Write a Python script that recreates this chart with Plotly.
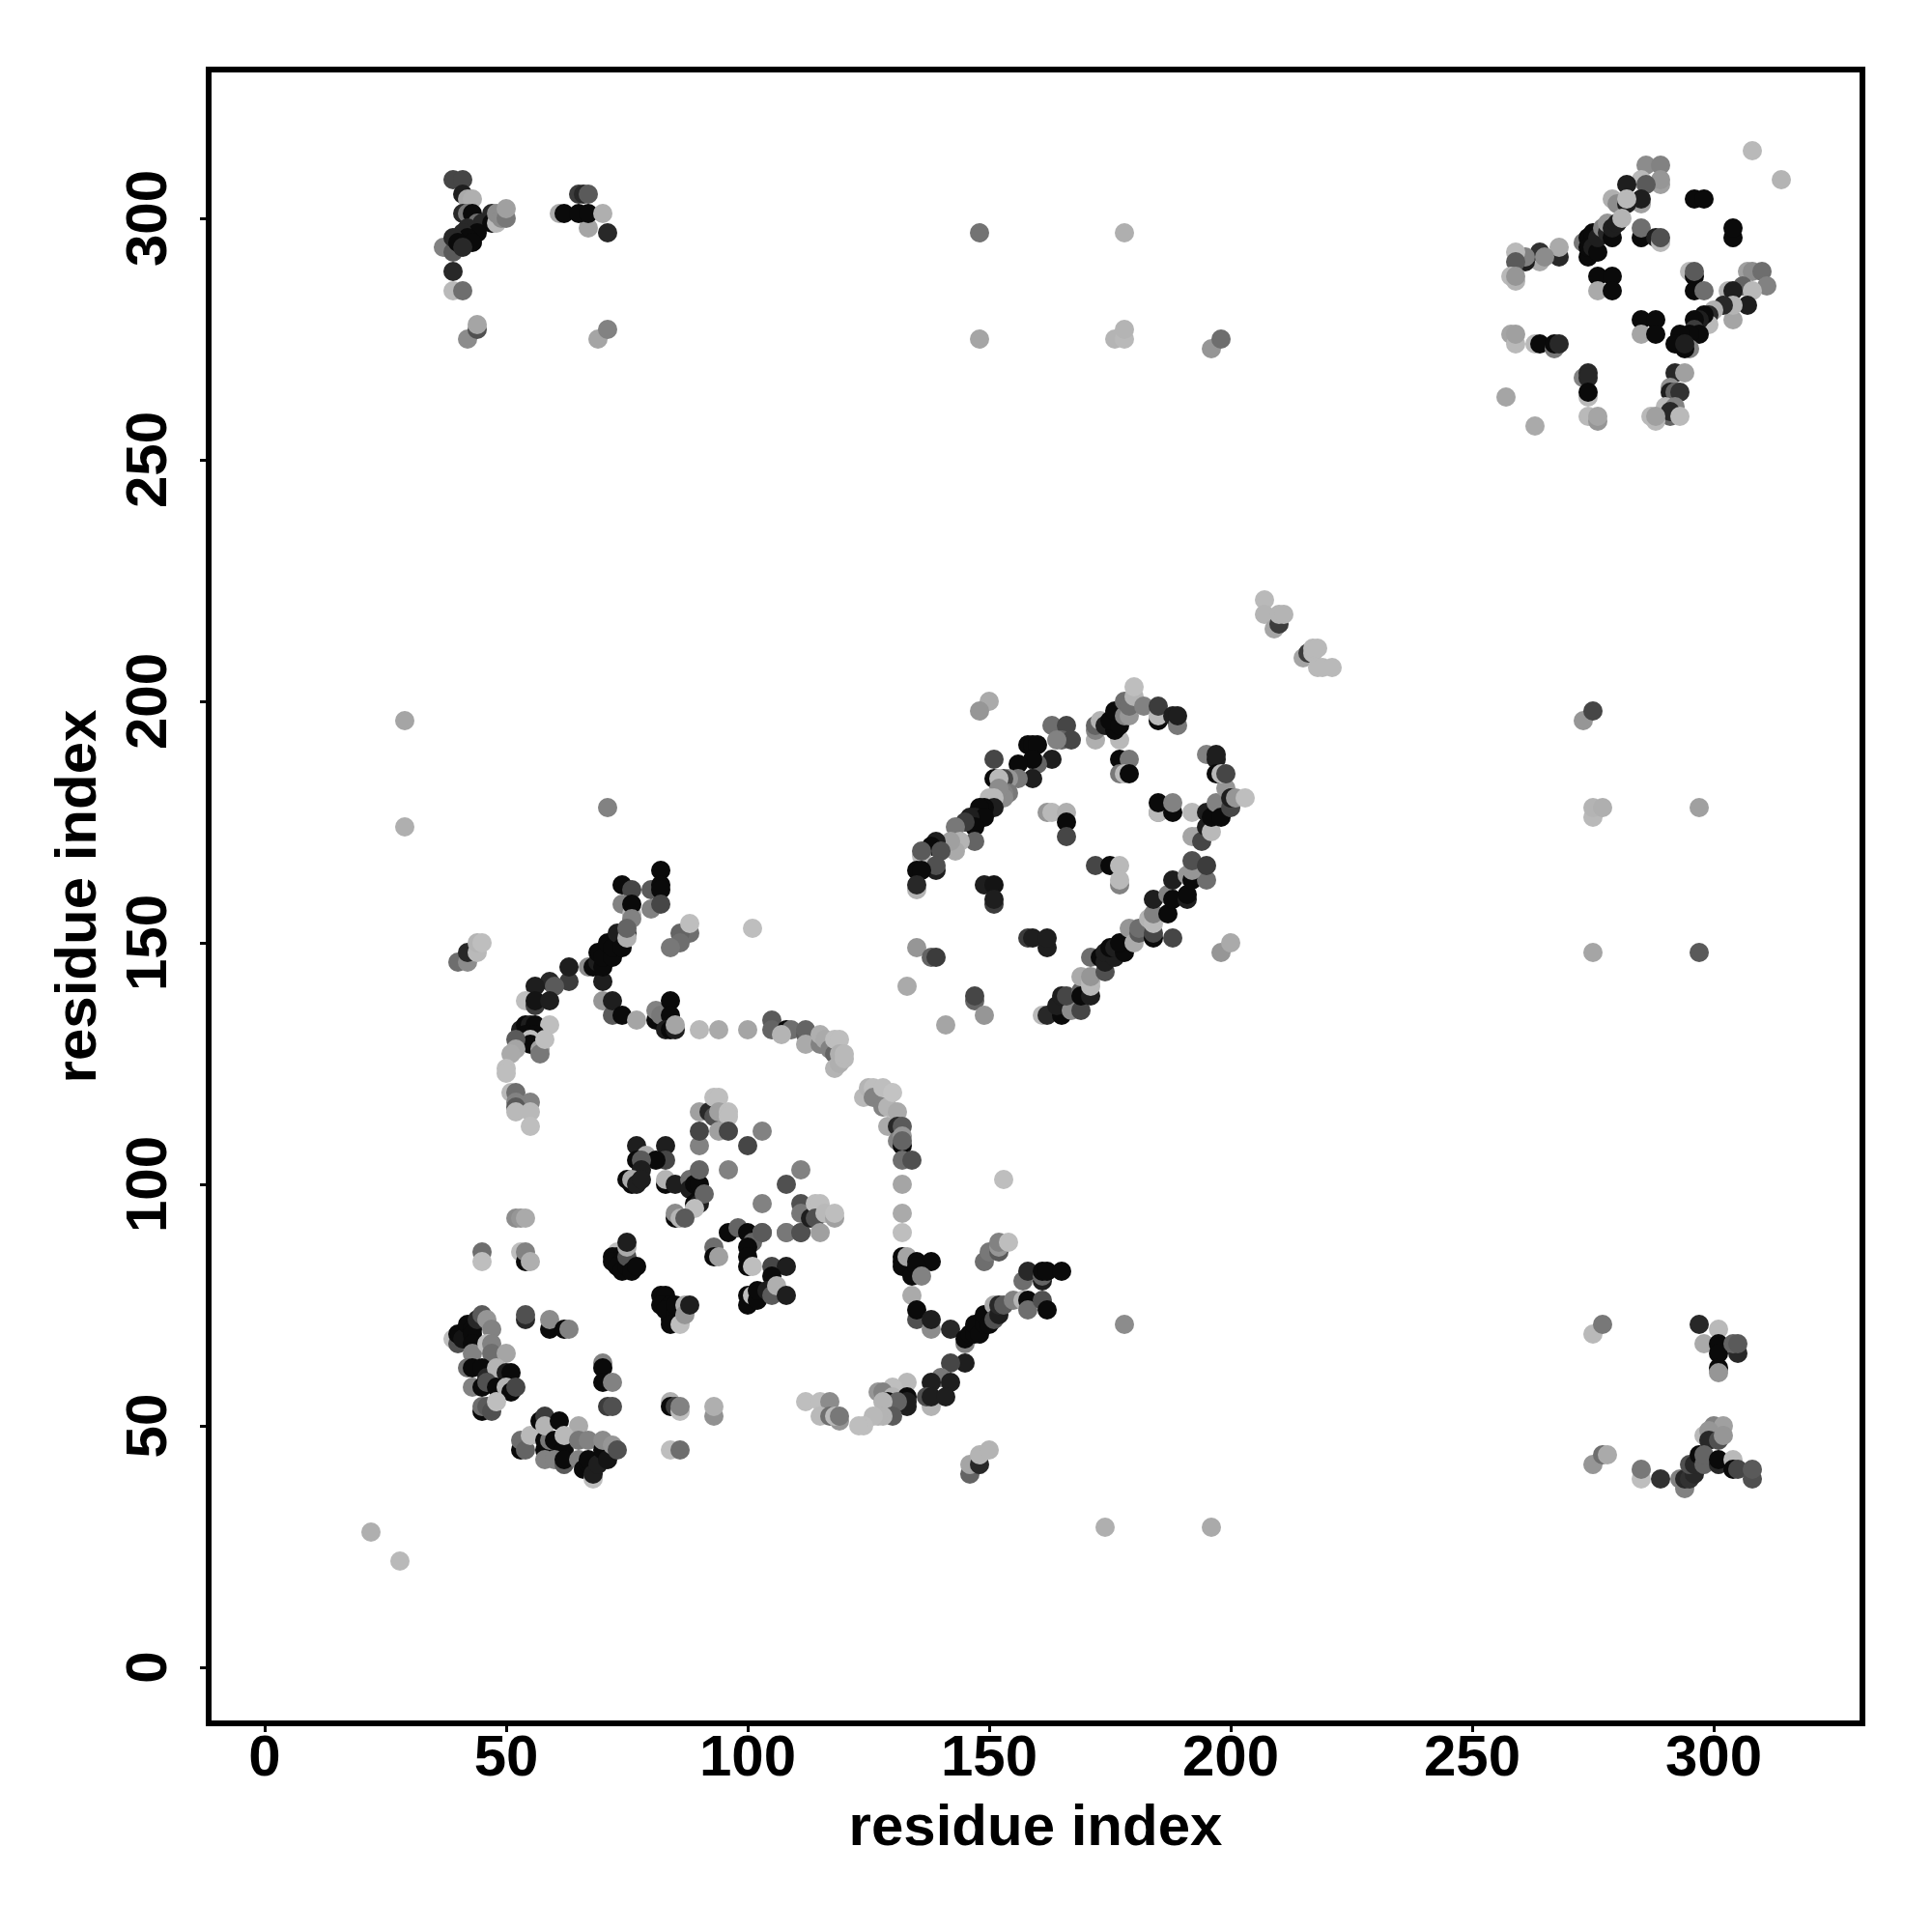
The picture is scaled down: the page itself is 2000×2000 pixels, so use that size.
import plotly.graph_objects as go

# (residue i, residue j, grey level of the dot)
lower_left = [(45,86,110),(45,84,190),(53,86,190),(54,84,10),(54,86,130),(55,84,175),(52,93,140),(53,93,150),(54,93,170),
 (54,72,40),(54,73,80),(59,70,10),(59,72,140),(62,70,10),(63,70,130),
 (39,68,190),(40,67,80),(40,69,10),(41,68,20),(42,71,10),(43,70,10),(43,69,10),(43,67,10),(44,72,40),(45,73,90),(46,72,150),(47,70,130),(43,65,130),
 (46,67,190),(47,67,130),(47,65,110),(50,65,165),(42,62,110),(43,62,10),(45,62,10),(46,60,40),(48,62,180),(50,61,30),(51,61,10),
 (43,58,130),(45,58,10),(46,59,80),(48,58,10),(50,58,180),(51,57,10),(52,58,70),(45,53,10),(45,54,110),(46,54,90),(47,53,80),(48,55,190),
 (53,45,10),(53,47,110),(54,45,100),(55,48,185),(57,51,10),(58,47,10),(58,52,60),(58,45,10),(59,47,120),(58,50,180),(61,51,10),(65,50,170),(60,47,10),(62,45,10),(62,48,185),
 (58,43,130),(60,43,130),(62,42,90),(62,43,10),(65,43,130),(65,47,120),(67,47,130),(66,41,10),(67,42,10),(67,43,10),(68,39,190),(68,40,30),(69,42,30),(70,45,10),(71,43,20),(70,47,140),(72,46,150),(73,45,80),
 (70,63,130),(70,62,10),(70,59,10),(72,59,130),(71,54,60),(72,54,80),
 (84,55,175),(84,54,10),(85,54,60),(86,53,190),(86,54,130),(93,52,145),(93,54,175),(84,45,190),(86,45,110)]

inner_sheet = [(73,86,190),(73,85,30),(72,85,10),(72,84,10),(74,84,10),(73,83,10),(74,82,10),(75,83,10),(75,85,80),(75,87,170),(75,88,30),(76,82,10),(77,83,10),
 (82,77,10),(83,77,10),(83,75,10),(82,75,10),(84,75,10),(84,72,10),(83,74,10),(85,73,10),(84,71,10),(85,75,10),(86,71,190),(87,75,170),(87,73,150),(88,75,30),
 (96,90,10),(98,91,100),(100,90,10),(103,90,110),(101,88,100),(100,87,10),(108,90,130),(111,90,90),(93,87,110),(93,85,10),(94,85,160),
 (100,85,10),(100,83,10),(101,83,190),(105,83,70),(108,83,30),(105,81,10),(100,77,10),(100,75,10),(101,77,190),(102,76,10),(102,78,10),(104,78,30),(105,77,90),(106,79,175),(108,77,30),
 (77,108,30),(83,108,30),(83,105,70),(79,106,170),(81,105,10),(77,105,10),(78,105,90),(78,103,30),(75,101,10),(76,100,10),(76,101,170),(77,100,30),(78,101,30),
 (83,100,10),(83,101,180),(85,100,30),(88,101,110),(88,99,30),(89,100,10),(90,100,10),(90,97,10),(89,96,10),(90,96,30),(91,98,100),(89,95,190),
 (85,93,10),(85,94,140),(86,93,180),(87,93,90),(90,103,100),(90,108,130),(90,111,70),(90,115,160),(92,115,40),(93,114,80),(93,118,190),(94,118,190),(94,115,160),(96,115,190),(96,114,190),(94,111,160),(96,111,70),
 (100,108,70),(103,111,130),(96,103,130),(111,103,130),(108,100,80),(103,96,130),(103,90,90),(108,90,120),(111,90,80),(111,96,80),(111,94,120),(113,93,30),(114,96,190),(115,96,190),(114,93,80),(116,94,185),(118,93,160),(118,94,190),(115,90,160)]

arc = [(105,134,90),(105,132,100),(108,132,10),(109,132,110),(107,131,180),(112,131,90),(112,132,100),(112,129,170),(115,129,130),(115,131,175),(116,130,170),(117,128,130),(118,127,100),(118,130,190),(119,130,190),(118,124,180),(119,125,175),(119,127,175),(120,126,185),(120,127,185),
 (124,118,185),(125,120,180),(126,120,190),(126,118,130),(128,116,130),(128,120,190),(129,116,180),(130,119,195),(131,115,170),(129,112,170),(131,112,40),(132,112,90),(131,109,130),(132,108,10),(132,110,150),(132,109,100),(132,105,110),(134,105,80),
 (132,100,165),(132,94,170),(132,90,190)]

hairpin = [(132,85,10),(132,84,10),(132,83,10),(133,85,165),(135,84,10),(134,81,10),(138,84,10),(135,83,10),(136,81,130),(134,77,170),(135,72,80),(135,74,10),(138,70,140),(138,72,30),(142,70,40),
 (145,67,130),(145,68,10),(146,69,10),(147,69,10),(147,71,10),(148,69,10),(149,71,10),(149,73,10),(150,71,10),(151,75,170),(151,72,80),(152,73,30),(152,75,40),(153,75,90),(155,76,130),(157,76,180),(158,76,10),(158,74,110),(161,76,80),(162,74,10),
 (157,80,110),(158,82,40),(161,80,30),(161,81,100),(161,82,10),(162,82,10),(165,82,10),
 (149,84,110),(150,86,120),(152,86,90),(152,87,150),(152,88,130),(154,88,190),(153,101,190),
 (145,63,30),(142,63,70),(140,60,120),(142,59,30),(138,59,30),(138,54,180),(137,56,80),(138,56,30),(141,56,30),
 (133,59,185),(130,58,190),(127,57,150),(128,57,130),(130,56,180),(129,55,10),(133,56,10),(133,54,30),(133,55,30),(131,55,100),(128,55,180),(130,52,90),(128,52,180),(127,52,180),(126,52,185),(124,50,190),(123,50,190),
 (112,55,190),(115,55,190),(117,55,140),(115,52,185),(117,52,110),(119,51,150),(118,52,185),(119,52,120),
 (146,40,100),(146,42,165),(148,42,40),(148,44,180),(150,45,180)]

branch_upper = [(74,162,10),(76,161,70),(82,165,10),(80,161,90),(82,162,10),(82,161,10),(80,157,130),(82,158,70),(74,158,130),(76,156,180),(76,158,10),(76,155,130),
 (70,142,30),(67,145,140),(68,145,10),(69,146,30),(70,145,10),(69,148,10),(70,147,10),(72,147,10),(71,150,10),(72,149,10),(73,152,30),(74,149,10),(75,152,40),(75,151,175),(75,153,100),
 (63,142,60),(63,145,30),(59,142,40),(60,141,90),(56,141,30),(54,138,190),(56,137,60),(56,138,20),(59,138,30),
 (70,138,150),(72,135,90),(72,138,30),(74,135,10),(77,134,165),(81,134,10),(81,136,130),(82,135,120),(84,138,10),(84,135,10),(83,132,30),(84,132,10),(85,132,30),(85,133,165),
 (90,132,185),(94,132,170),(100,132,165),(88,152,110),(86,152,100),(86,150,110),(84,149,120),(88,154,190),(101,153,190),
 (53,132,30),(54,133,10),(55,133,30),(56,133,10),(59,133,190),(54,131,10),(56,131,10),(55,130,190),(55,129,10),(52,130,90),(52,128,165),(51,127,170),(57,128,160),(57,127,120),(58,130,190),(50,124,190),(50,123,190),
 (51,119,185),(52,119,110),(55,117,130),(52,117,130),(52,116,90),(52,115,185),(55,115,185),(55,112,190),
 (40,146,110),(42,146,140),(42,148,40),(44,148,185),(44,150,180),(45,150,190)]

domain_sheet = [(150,200,170),(148,198,150),(163,195,110),(166,195,70),(165,192,100),(167,192,70),(164,192,130),(158,191,10),(159,191,10),(160,191,10),(163,188,30),(160,187,100),(159,188,10),(156,187,10),(151,188,70),
 (159,184,30),(156,184,120),(154,184,150),(153,184,70),(151,184,10),(152,184,185),(154,181,120),(153,181,130),(153,180,140),(152,182,140),(151,180,185),(150,180,185),(151,178,30),(149,178,10),(148,178,10),
 (147,176,30),(149,176,10),(146,176,30),(147,174,10),(145,175,60),(143,174,120),(147,171,100),(144,171,180),(143,169,170),(142,171,160),(139,171,30),(138,170,10),(140,169,80),(136,168,185),(136,169,90),(139,165,30),(139,166,80),(135,165,10),(136,165,10),(135,161,180),(135,162,40),
 (149,162,30),(151,162,20),(151,158,60),(151,159,30),(135,149,150),(138,147,100),(139,147,60),(133,141,170),(147,138,100),(147,139,70),(149,135,150),(141,133,165),
 (161,135,185),(162,135,40),(165,135,10),(164,137,30),(167,136,140),(169,136,70),(165,139,30),(166,139,70),(169,140,100),(169,139,10),(171,139,30),(169,143,170),(171,141,185),(171,142,185),(171,143,150),
 (171,147,110),(174,144,80),(173,147,10),(174,146,30),(174,148,30),(176,147,30),(175,149,10),(176,149,30),(178,148,10),(177,150,10),(179,153,150),(180,150,170),(181,152,90),(181,153,110),
 (183,155,180),(184,151,10),(184,152,70),(184,154,185),(184,156,130),(188,151,70),(187,156,10),(184,159,30),(187,160,130),(188,159,10),(191,159,30),(191,160,10),(188,163,30),(191,164,150),(192,163,10),(195,163,110),(192,165,150),(192,167,80),(195,166,60),
 (172,166,70),(175,166,10),(177,166,185),(177,162,130),(177,163,185),(158,151,60),(159,151,30),(162,149,30),(162,151,30),(198,148,150),(200,150,170),
 (162,177,150),(163,177,185),(166,177,175),(166,175,10),(166,172,70),(185,177,130),(185,177,185),(185,179,10),(188,177,10),(188,179,130),
 (192,177,185),(192,172,165),(193,172,165),(194,171,70),(195,174,30),(195,177,30),(196,173,185),(196,176,10),(197,179,130),(198,176,10),(199,182,150),(200,178,70),(200,180,30),(201,180,150),(203,180,190),
 (195,189,130),(197,188,30),(197,189,30),(197,185,10),(198,185,185),(199,185,70),(177,188,10),(179,188,120),(177,185,120),(178,185,185),(179,185,10),
 (172,192,175),(177,192,185),(172,194,130),(172,195,100),(173,196,180),(174,195,30),(176,194,10),(175,196,10),(177,195,10),(176,198,10),(178,197,130),(179,197,150),(178,200,110),(179,199,110),(180,201,180),(180,203,190),(182,199,130),
 (185,196,10),(185,197,185),(185,199,60),(188,197,30),(189,195,120),(189,197,30),
 (207,221,185),(207,218,180),(209,215,165),(210,216,60),(210,218,180),(211,218,180),(215,209,165),(216,210,60),(217,210,185),(217,211,185),(218,211,185),(218,207,185),(219,207,185),(221,207,185)]

upper_right = [(308,314,185),(314,308,180),(286,311,140),(289,311,130),(289,307,160),(289,308,150),(285,308,185),(286,307,90),(282,307,30),(285,303,160),(285,304,30),(279,304,175),(280,303,140),(282,303,30),(282,304,185),
 (273,295,120),(274,296,10),(274,292,10),(274,294,10),(275,297,10),(275,294,30),(276,293,10),(276,296,30),(277,298,130),(278,297,40),(278,299,150),(279,296,10),(279,298,30),(280,299,30),(281,300,180),
 (285,296,10),(285,298,110),(288,296,30),(289,295,185),(289,296,80),(296,304,10),(298,304,10),(304,296,10),(304,298,10),
 (268,292,40),(268,294,170),(264,291,170),(264,293,50),(265,292,140),(261,291,30),(261,292,130),(259,293,185),(259,291,90),(258,288,185),(259,287,180),(259,288,150),
 (276,288,10),(279,288,10),(276,285,170),(279,285,10),(295,289,185),(296,288,10),(296,289,90),(296,285,10),(298,285,110),
 (307,289,160),(308,289,140),(310,289,110),(311,286,130),(306,286,100),(303,285,180),(304,285,30),(308,285,185),(307,282,30),(304,279,165),(304,282,180),(302,282,40),(300,281,175),(299,280,40),(299,278,185),(298,280,10),(297,279,30),(296,279,10),(296,277,60),
 (297,276,10),(295,276,10),(293,276,10),(292,274,10),(295,273,130),(294,273,10),(294,274,30),
 (285,279,10),(288,279,10),(285,276,165),(288,276,10),(258,276,165),(259,274,185),(259,276,160),(263,274,185),(264,274,10),(267,273,120),(267,274,10),(268,274,40),
 (273,267,130),(274,268,40),(274,267,40),(274,263,185),(274,264,10),(257,263,165),(263,257,170),(274,259,185),(276,258,150),(276,259,165),
 (292,268,40),(294,268,160),(291,265,145),(291,264,30),(292,264,100),(293,264,50),(290,261,185),(292,261,130),(291,259,100),(291,260,40),(293,259,185),(287,259,185),(288,258,185),(288,259,160)]

upper_left = [(39,308,70),(41,308,70),(41,305,30),(42,304,170),(43,304,175),(41,301,40),(42,301,120),(43,301,10),(44,299,110),(45,299,40),(47,301,40),(47,299,10),(48,299,185),(48,301,140),(49,300,140),(50,300,120),(50,302,160),
 (42,298,40),(44,297,10),(41,297,40),(42,296,10),(43,295,10),(37,294,130),(39,293,90),(39,296,40),(40,295,10),(41,294,40),(39,289,40),(39,285,185),(41,285,110),(42,275,140),(44,277,80),(44,278,165),
 (71,297,40),(67,298,165),(61,301,170),(62,301,10),(65,301,10),(67,301,10),(70,301,175),(65,305,60),(66,305,40),(67,305,90),(69,275,165),(71,277,130)]

lower_right = [(275,69,185),(277,71,120),(297,71,40),(301,70,185),(298,67,170),(301,67,10),(301,65,10),(301,62,10),(301,61,150),(305,65,40),(304,67,100),(305,67,90),
 (300,50,130),(302,50,160),(298,48,185),(299,49,150),(299,47,40),(301,47,80),(302,48,150),(294,37,130),(293,39,130),(294,39,40),(295,39,50),(296,40,40),(295,42,80),(296,42,40),(297,44,10),(298,42,100),(298,44,100),(301,42,40),(301,43,10),(304,43,185),(304,41,10),(305,41,70),(308,39,80),(308,41,90),
 (289,39,50),(285,39,190),(285,41,120),(275,42,150),(277,44,110),(278,44,170)]

scattered = [(148,297,115),(178,297,175),(148,275,165),(176,275,180),(178,275,185),(178,277,180),(196,273,150),(198,275,110),
 (273,196,150),(275,198,70),(275,176,185),(275,178,180),(277,178,175),(297,178,160),(275,148,165),(297,148,90),
 (29,196,165),(29,174,175),(71,178,130),(22,28,175),(28,22,185),(174,29,175),(196,29,170),(178,71,140)]

tick_values = [0, 50, 100, 150, 200, 250, 300]
axis_label = "residue index"

points = lower_left + inner_sheet + arc + hairpin + branch_upper + domain_sheet + upper_right + upper_left + lower_right + scattered
xs = [p[0] for p in points]
ys = [p[1] for p in points]
colors = [f"rgb({p[2]},{p[2]},{p[2]})" for p in points]

fig = go.Figure(go.Scatter(x=xs, y=ys, mode="markers",
                           marker=dict(size=20, color=colors, line=dict(width=0))))

FONT = "Liberation Sans"
W = H = 1992
L, R, T, B = 211, 1917, 67, 1773   # plot area in page px, less the 8 px page margin

def axis(**kw):
    return dict(showgrid=False, zeroline=False, showline=True, linecolor="black", linewidth=6,
                mirror=True, ticks="outside", ticklen=6, tickwidth=3, tickcolor="black",
                tickvals=tick_values, ticktext=[str(v) for v in tick_values],
                tickfont=dict(family=FONT, size=60, color="black", weight="bold"),
                title=dict(text=f"<b>{axis_label}</b>", font=dict(family=FONT, size=60, color="black")),
                **kw)

fig.update_layout(
    width=W, height=H, showlegend=False,
    paper_bgcolor="white", plot_bgcolor="white",
    margin=dict(l=L, r=W - R, t=T, b=H - B, autoexpand=False),
    xaxis=axis(range=[-11, 330.2], ticklabelstandoff=-27),
    yaxis=axis(range=[-11, 330.2], tickangle=-90, ticklabelstandoff=11, ticklabelshift=9),
)
fig.update_xaxes(title_standoff=20)
fig.update_yaxes(title_standoff=1)
fig.write_html("out.html")
